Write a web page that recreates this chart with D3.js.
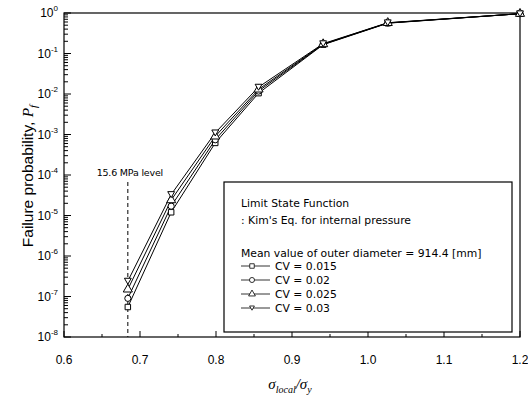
<!DOCTYPE html>
<html>
<head>
<meta charset="utf-8">
<script src="https://d3js.org/d3.v7.min.js"></script>
<style>
  body { margin: 0; background: #fff; }
  svg { display: block; }
</style>
</head>
<body>
<div id="chart"></div>
<script>

// stress ratio sigma_local / sigma_y
var xVals = [0.684, 0.741, 0.799, 0.856, 0.941, 1.026, 1.2];

// failure probability for each CV of outer diameter
var cv015 = [5.5e-8, 1.2e-5, 6.2e-4, 0.0105, 0.165, 0.56, 0.96];
var cv020 = [9.0e-8, 1.7e-5, 7.4e-4, 0.0118, 0.168, 0.565, 0.96];
var cv025 = [1.5e-7, 2.4e-5, 9.0e-4, 0.0130, 0.171, 0.57, 0.96];
var cv030 = [2.4e-7, 3.3e-5, 1.1e-3, 0.0148, 0.175, 0.575, 0.96];

var seriesNames = ["CV = 0.015", "CV = 0.02", "CV = 0.025", "CV = 0.03"];
var xTicks = [0.6, 0.7, 0.8, 0.9, 1.0, 1.1, 1.2];
var yExps = [0, -1, -2, -3, -4, -5, -6, -7, -8];
var levelX = 0.684;

function drawChart() {
  var width = 528, height = 403;
  var pLeft = 64, pRight = 520, pTop = 13, pBottom = 337;

  var svg = d3.select("#chart").append("svg")
      .attr("width", width)
      .attr("height", height)
      .style("font-family", "'Liberation Sans', Arial, sans-serif");

  var x = d3.scaleLinear().domain([0.6, 1.2]).range([pLeft, pRight]);
  var y = d3.scaleLog().domain([1e-8, 1]).range([pBottom, pTop]);

  // frame
  svg.append("rect")
      .attr("x", pLeft).attr("y", pTop)
      .attr("width", pRight - pLeft).attr("height", pBottom - pTop)
      .attr("fill", "none").attr("stroke", "#000").attr("stroke-width", 1.2);

  // x axis ticks (inside)
  var xMinor = d3.range(0.65, 1.2, 0.1);
  svg.append("g").selectAll("line").data(xTicks).enter().append("line")
      .attr("x1", d => x(d)).attr("x2", d => x(d))
      .attr("y1", pBottom).attr("y2", pBottom - 6)
      .attr("stroke", "#000");
  svg.append("g").selectAll("line").data(xMinor).enter().append("line")
      .attr("x1", d => x(d)).attr("x2", d => x(d))
      .attr("y1", pBottom).attr("y2", pBottom - 3)
      .attr("stroke", "#000");
  svg.append("g").selectAll("text").data(xTicks).enter().append("text")
      .attr("x", d => x(d)).attr("y", pBottom + 27)
      .attr("text-anchor", "middle")
      .attr("font-size", "12px")
      .text(d => d3.format(".1f")(d));

  // y axis ticks (inside, log minor ticks)
  var yMinor = [];
  yExps.slice(1).forEach(function (e) {
    for (var k = 2; k <= 9; k++) yMinor.push(k * Math.pow(10, e));
  });
  svg.append("g").selectAll("line").data(yExps).enter().append("line")
      .attr("x1", pLeft).attr("x2", pLeft + 7)
      .attr("y1", d => y(Math.pow(10, d))).attr("y2", d => y(Math.pow(10, d)))
      .attr("stroke", "#000");
  svg.append("g").selectAll("line").data(yMinor).enter().append("line")
      .attr("x1", pLeft).attr("x2", pLeft + 4)
      .attr("y1", d => y(d)).attr("y2", d => y(d))
      .attr("stroke", "#000");
  var yLab = svg.append("g").selectAll("text").data(yExps).enter().append("text")
      .attr("x", 58).attr("y", d => y(Math.pow(10, d)) + 4)
      .attr("text-anchor", "end")
      .attr("font-size", "12px");
  yLab.append("tspan").text("10");
  yLab.append("tspan").attr("dy", -6).attr("font-size", "8px").text(d => d);

  // axis titles
  var yt = svg.append("text")
      .attr("transform", "translate(33,176) rotate(-90)")
      .attr("text-anchor", "middle")
      .attr("font-size", "15.5px");
  yt.append("tspan").text("Failure probability, ");
  yt.append("tspan").attr("font-family", "'Liberation Serif', serif").attr("font-style", "italic").text("P");
  yt.append("tspan").attr("font-family", "'Liberation Serif', serif").attr("font-style", "italic")
      .attr("font-size", "11px").attr("dy", 4).text("f");

  var xt = svg.append("text")
      .attr("x", 290).attr("y", 389)
      .attr("text-anchor", "middle")
      .attr("font-family", "'Liberation Serif', serif")
      .attr("font-style", "italic")
      .attr("font-size", "15px");
  xt.append("tspan").text("σ");
  xt.append("tspan").attr("font-size", "10px").attr("dy", 4).text("local");
  xt.append("tspan").attr("dy", -4).text("/σ");
  xt.append("tspan").attr("font-size", "10px").attr("dy", 4).text("y");

  // 15.6 MPa level
  svg.append("line")
      .attr("x1", x(levelX)).attr("x2", x(levelX))
      .attr("y1", 182).attr("y2", pBottom)
      .attr("stroke", "#000").attr("stroke-dasharray", "4,3");
  svg.append("text")
      .attr("x", x(levelX) + 2).attr("y", 176)
      .attr("text-anchor", "middle")
      .attr("font-family", "'DejaVu Sans', sans-serif")
      .attr("font-size", "9.5px")
      .attr("letter-spacing", "-0.2px")
      .text("15.6 MPa level");

  // series
  var triDown = {
    draw: function (ctx, size) {
      var h = Math.sqrt(size) * 0.9;
      ctx.moveTo(-h * 0.6, -h * 0.5);
      ctx.lineTo(h * 0.6, -h * 0.5);
      ctx.lineTo(0, h * 0.55);
      ctx.closePath();
    }
  };
  var symbols = [d3.symbolSquare, d3.symbolCircle, d3.symbolTriangle, triDown];
  var sizes = [30, 30, 36, 40];
  var allSeries = [cv015, cv020, cv025, cv030];

  var line = d3.line()
      .x(d => x(d[0]))
      .y(d => y(d[1]));

  allSeries.forEach(function (vals) {
    var pts = xVals.map((v, j) => [v, vals[j]]);
    svg.append("path")
        .datum(pts)
        .attr("d", line)
        .attr("fill", "none")
        .attr("stroke", "#000")
        .attr("stroke-width", 1);
  });
  allSeries.forEach(function (vals, i) {
    var pts = xVals.map((v, j) => [v, vals[j]]);
    svg.append("g").selectAll("path").data(pts).enter().append("path")
        .attr("d", d3.symbol().type(symbols[i]).size(sizes[i]))
        .attr("transform", d => "translate(" + x(d[0]) + "," + y(d[1]) + ")")
        .attr("fill", "#fff")
        .attr("stroke", "#000")
        .attr("stroke-width", 1);
  });

  // legend box
  var lg = svg.append("g").attr("font-family", "'DejaVu Sans', sans-serif").attr("font-size", "10.8px");
  lg.append("rect")
      .attr("x", 224).attr("y", 182).attr("width", 288).attr("height", 150)
      .attr("fill", "#fff").attr("stroke", "#000").attr("stroke-width", 1.2);
  lg.append("text").attr("x", 241).attr("y", 207).text("Limit State Function");
  lg.append("text").attr("x", 241).attr("y", 224).text(": Kim's Eq. for internal pressure");
  lg.append("text").attr("x", 241).attr("y", 257).text("Mean value of outer diameter = 914.4 [mm]");
  seriesNames.forEach(function (name, i) {
    var ly = 270 + i * 14;
    lg.append("line")
        .attr("x1", 241).attr("x2", 270)
        .attr("y1", ly - 4).attr("y2", ly - 4)
        .attr("stroke", "#000").attr("stroke-width", 0.8);
    lg.append("path")
        .attr("d", d3.symbol().type(symbols[i]).size(20))
        .attr("transform", "translate(252," + (ly - 4) + ")")
        .attr("fill", "#fff").attr("stroke", "#000").attr("stroke-width", 0.8);
    lg.append("text").attr("x", 275).attr("y", ly).text(name);
  });
}

drawChart();

</script>
</body>
</html>
